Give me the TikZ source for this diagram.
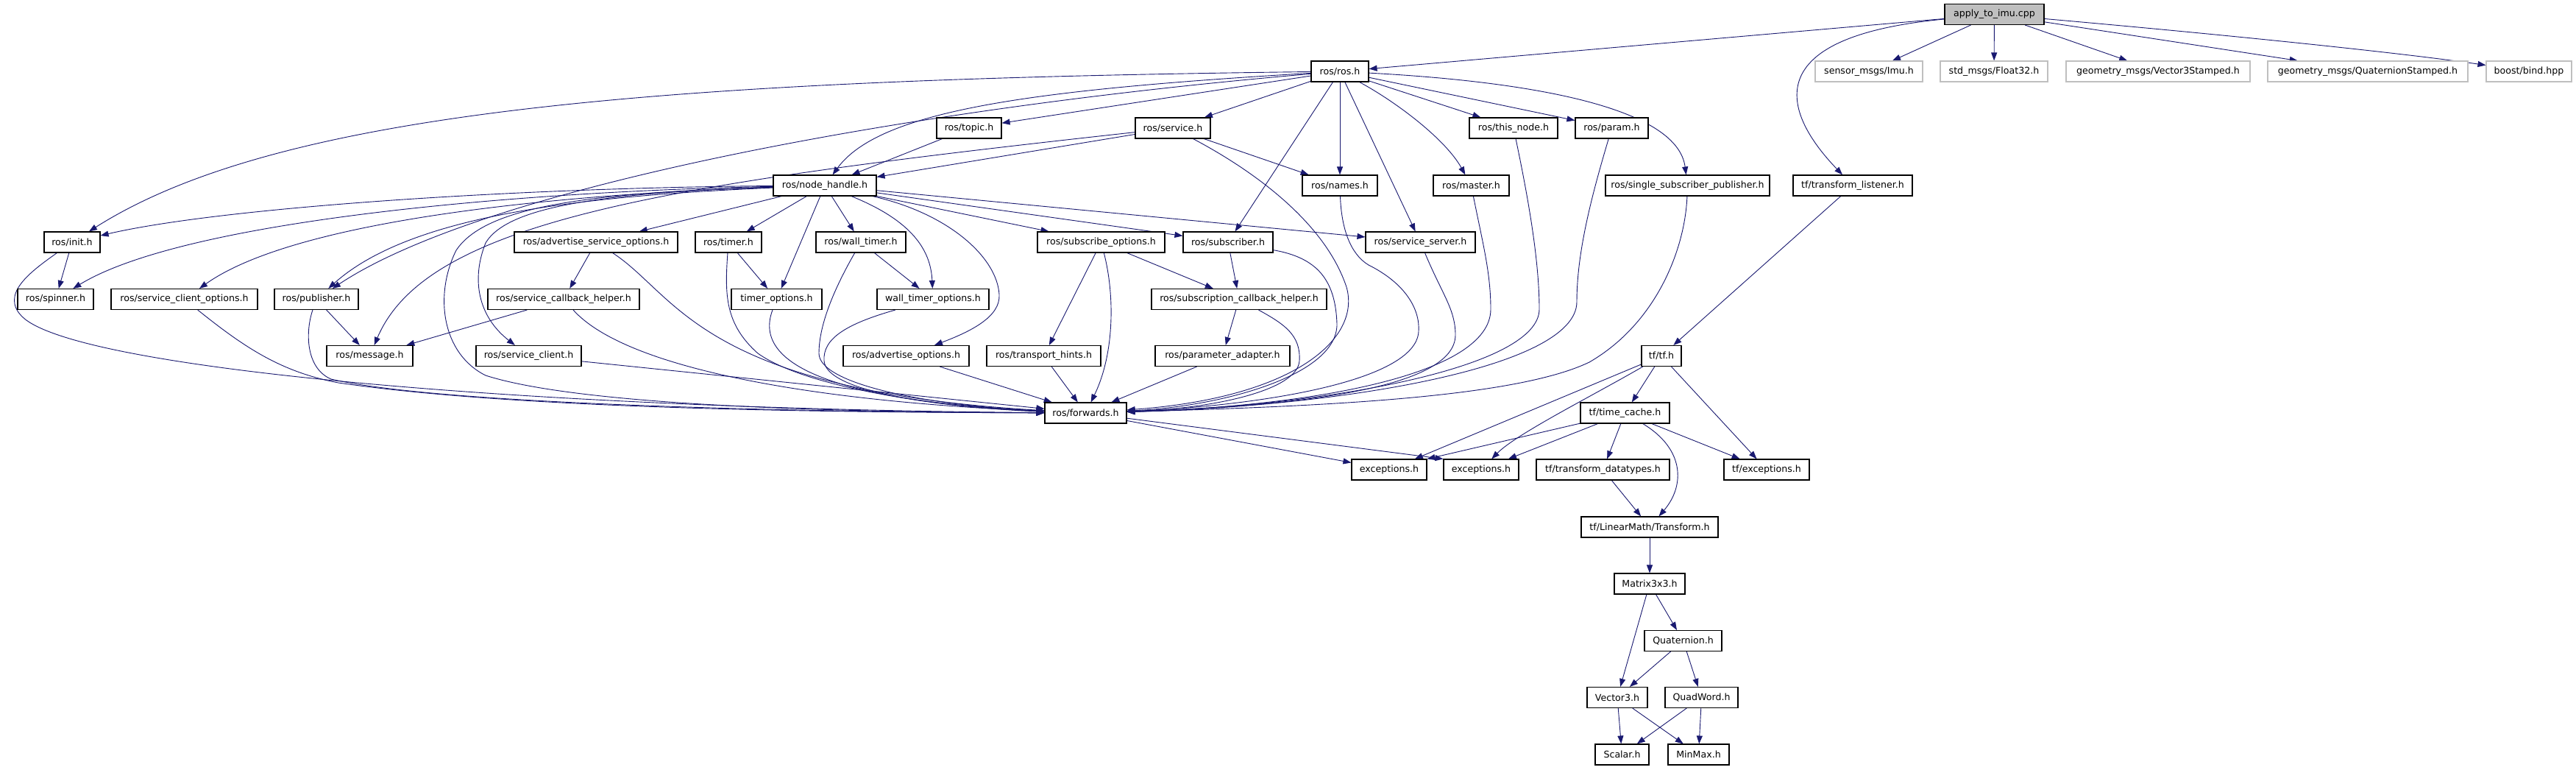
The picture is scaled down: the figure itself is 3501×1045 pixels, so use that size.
\documentclass[tikz,border=0pt]{standalone}
\usepackage{fontspec}
\setmainfont{DejaVu Sans}
\usetikzlibrary{arrows.meta,backgrounds}
\definecolor{edgecol}{HTML}{191970}
\definecolor{extgray}{HTML}{BFBFBF}
\tikzset{
  box/.style={draw=black, line width=1.1pt, fill=white, inner sep=0pt, minimum height=28pt,
              font=\fontsize{12.6pt}{15pt}\selectfont, text=black},
  extbox/.style={draw=extgray},
  rootbox/.style={fill=extgray},
  dep/.style={draw=edgecol, line width=0.9pt, -{Triangle[length=11pt,width=8pt]}}
}
\newcommand{\mkbox}[6][]{\node[box,#1,minimum width={#4-#3}] (#2) at ({(#3+#4)/2},#5) {#6};}
\begin{document}
\begin{tikzpicture}[x=1pt,y=-1pt]
% row 0
\mkbox[rootbox]{apply}{2643}{2778}{19.5}{apply\_to\_imu.cpp}
% row 1
\mkbox{rosros}{1782}{1860}{97}{ros/ros.h}
\mkbox[extbox]{imu}{2467}{2613}{97}{sensor\_msgs/Imu.h}
\mkbox[extbox]{f32}{2637}{2783}{97}{std\_msgs/Float32.h}
\mkbox[extbox]{v3s}{2808}{3058}{97}{geometry\_msgs/Vector3Stamped.h}
\mkbox[extbox]{qs}{3082}{3354}{97}{geometry\_msgs/QuaternionStamped.h}
\mkbox[extbox]{bind}{3379}{3495}{97}{boost/bind.hpp}
% row 2
\mkbox{topic}{1273}{1361}{174}{ros/topic.h}
\mkbox{service}{1543}{1645}{174}{ros/service.h}
\mkbox{thisnode}{1997}{2117}{174}{ros/this\_node.h}
\mkbox{param}{2141}{2240}{174}{ros/param.h}
% row 3
\mkbox{nh}{1051}{1191}{252}{ros/node\_handle.h}
\mkbox{names}{1770}{1872}{252}{ros/names.h}
\mkbox{master}{1948}{2051}{252}{ros/master.h}
\mkbox{ssp}{2182}{2405}{252}{ros/single\_subscriber\_publisher.h}
\mkbox{tlist}{2437}{2599}{252}{tf/transform\_listener.h}
% row 4
\mkbox{init}{60}{136}{329}{ros/init.h}
\mkbox{aso}{699}{921}{329}{ros/advertise\_service\_options.h}
\mkbox{timer}{945}{1035}{329}{ros/timer.h}
\mkbox{wtimer}{1109}{1231}{329}{ros/wall\_timer.h}
\mkbox{subopt}{1410}{1583}{329}{ros/subscribe\_options.h}
\mkbox{subscriber}{1608}{1730}{329}{ros/subscriber.h}
\mkbox{ssrv}{1856}{2005}{329}{ros/service\_server.h}
% row 5
\mkbox{spinner}{24}{127}{406.5}{ros/spinner.h}
\mkbox{sco}{151}{350}{406.5}{ros/service\_client\_options.h}
\mkbox{pub}{373}{487}{406.5}{ros/publisher.h}
\mkbox{sch}{663}{869}{406.5}{ros/service\_callback\_helper.h}
\mkbox{topt}{994}{1117}{406.5}{timer\_options.h}
\mkbox{wtopt}{1192}{1344}{406.5}{wall\_timer\_options.h}
\mkbox{subcb}{1565}{1803}{406.5}{ros/subscription\_callback\_helper.h}
% row 6
\mkbox{msg}{444}{561}{483.5}{ros/message.h}
\mkbox{sclient}{647}{790}{483.5}{ros/service\_client.h}
\mkbox{advopt}{1146}{1317}{483.5}{ros/advertise\_options.h}
\mkbox{thints}{1341}{1496}{483.5}{ros/transport\_hints.h}
\mkbox{padapt}{1570}{1753}{483.5}{ros/parameter\_adapter.h}
\mkbox{tf}{2231}{2285}{483.5}{tf/tf.h}
% row 7
\mkbox{fwd}{1420}{1531}{561}{ros/forwards.h}
\mkbox{tcache}{2148}{2269}{561}{tf/time\_cache.h}
% row 8
\mkbox{exca}{1837}{1939}{638}{exceptions.h}
\mkbox{excb}{1962}{2064}{638}{exceptions.h}
\mkbox{tdt}{2088}{2269}{638}{tf/transform\_datatypes.h}
\mkbox{tfexc}{2343}{2459}{638}{tf/exceptions.h}
% rows 9-13
\mkbox{ltf}{2149}{2335}{716}{tf/LinearMath/Transform.h}
\mkbox{mat}{2194}{2290}{793}{Matrix3x3.h}
\mkbox{quat}{2235}{2340}{870.5}{Quaternion.h}
\mkbox{vec}{2157}{2239}{947.5}{Vector3.h}
\mkbox{qw}{2263}{2362}{947.5}{QuadWord.h}
\mkbox{scal}{2168}{2241}{1025}{Scalar.h}
\mkbox{mm}{2267}{2350}{1025}{MinMax.h}

\begin{pgfonlayer}{background}
\path[use as bounding box, fill=white] (0,0) rectangle (3501,1045);
% ---- edges from apply_to_imu.cpp
\draw[dep] (apply) -- (rosros);
\draw[dep] (apply) -- (imu);
\draw[dep] (apply) -- (f32);
\draw[dep] (apply) -- (v3s);
\draw[dep] (apply) -- (qs);
\draw[dep] (apply) .. controls (3000,45) and (3250,70) .. (bind);
\draw[dep] (apply) .. controls (2390,50) and (2420,150) .. (tlist);

% ---- edges from ros/ros.h
\draw[dep] (rosros) .. controls (900,108) and (380,150) .. (init);
\draw[dep] (rosros) .. controls (1200,150) and (650,260) .. (pub);
\draw[dep] (rosros) .. controls (1400,122) and (1195,150) .. (nh);
\draw[dep] (rosros) -- (topic);
\draw[dep] (rosros) -- (service);
\draw[dep] (rosros) -- (names);
\draw[dep] (rosros) -- (subscriber);
\draw[dep] (rosros) -- (ssrv);
\draw[dep] (rosros) .. controls (1900,140) and (1965,190) .. (master);
\draw[dep] (rosros) -- (thisnode);
\draw[dep] (rosros) -- (param);
\draw[dep] (rosros) .. controls (2100,112) and (2280,150) .. (ssp);

% ---- topic, service
\draw[dep] (topic) -- (nh);
\draw[dep] (service) -- (nh);
\draw[dep] (service) .. controls (900,250) and (580,300) .. (msg);
\draw[dep] (service) -- (names);
\draw[dep] (service) .. controls (1700,230) and (1800,300) .. (1830,390)
                     .. controls (1850,460) and (1760,540) .. (fwd);

% ---- node_handle
\draw[dep] (nh) .. controls (700,255) and (300,282) .. (init);
\draw[dep] (nh) .. controls (700,260) and (250,300) .. (spinner);
\draw[dep] (nh) .. controls (750,264) and (400,300) .. (sco);
\draw[dep] (nh) .. controls (800,266) and (560,290) .. (pub);
\draw[dep] (nh) .. controls (820,262) and (690,280) .. (660,330)
                .. controls (640,380) and (650,430) .. (sclient);
\draw[dep] (nh) .. controls (800,262) and (660,280) .. (620,340)
                .. controls (590,400) and (600,480) .. (660,510)
                .. controls (800,555) and (1200,560) .. (fwd);
\draw[dep] (nh) -- (aso);
\draw[dep] (nh) -- (timer);
\draw[dep] (nh) -- (topt);
\draw[dep] (nh) -- (wtimer);
\draw[dep] (nh) .. controls (1240,300) and (1265,340) .. (wtopt);
\draw[dep] (nh) .. controls (1290,290) and (1355,350) .. (1358,400)
                .. controls (1360,430) and (1320,450) .. (advopt);
\draw[dep] (nh) -- (subopt);
\draw[dep] (nh) -- (subscriber);
\draw[dep] (nh) -- (ssrv);

% ---- second level, left part
\draw[dep] (init) -- (spinner);
\draw[dep] (init) .. controls (40,370) and (0,400) .. (30,430)
                  .. controls (100,500) and (700,555) .. (fwd);
\draw[dep] (sco) .. controls (330,470) and (380,505) .. (460,520)
                 .. controls (700,555) and (1100,560) .. (fwd);
\draw[dep] (pub) -- (msg);
\draw[dep] (pub) .. controls (415,450) and (415,500) .. (450,515)
                 .. controls (600,550) and (1100,560) .. (fwd);
\draw[dep] (aso) -- (sch);
\draw[dep] (aso) .. controls (920,400) and (950,530) .. (fwd);
\draw[dep] (sch) -- (msg);
\draw[dep] (sch) .. controls (850,500) and (1100,545) .. (fwd);
\draw[dep] (sclient) -- (fwd);
\draw[dep] (timer) -- (topt);
\draw[dep] (timer) .. controls (985,400) and (985,440) .. (1030,480)
                   .. controls (1100,530) and (1300,555) .. (fwd);
\draw[dep] (topt) .. controls (1020,500) and (1150,545) .. (fwd);
\draw[dep] (wtimer) -- (wtopt);
\draw[dep] (wtimer) .. controls (1135,390) and (1113,440) .. (1113,480)
                    .. controls (1113,520) and (1250,550) .. (fwd);
\draw[dep] (wtopt) .. controls (1150,440) and (1118,460) .. (1120,490)
                   .. controls (1122,530) and (1260,552) .. (fwd);
\draw[dep] (advopt) -- (fwd);

% ---- second level, right part
\draw[dep] (subopt) -- (thints);
\draw[dep] (subopt) .. controls (1515,400) and (1515,480) .. (fwd);
\draw[dep] (subopt) -- (subcb);
\draw[dep] (subscriber) -- (subcb);
\draw[dep] (subscriber) .. controls (1790,350) and (1815,380) .. (1817,440)
                        .. controls (1818,510) and (1660,552) .. (fwd);
\draw[dep] (subcb) -- (padapt);
\draw[dep] (subcb) .. controls (1745,440) and (1768,455) .. (1766,490)
                   .. controls (1764,530) and (1650,555) .. (fwd);
\draw[dep] (thints) -- (fwd);
\draw[dep] (padapt) -- (fwd);
\draw[dep] (names) .. controls (1823,310) and (1835,345) .. (1860,360)
                   .. controls (1910,385) and (1930,420) .. (1928,450)
                   .. controls (1925,520) and (1700,552) .. (fwd);
\draw[dep] (ssrv) .. controls (1960,400) and (1978,420) .. (1978,455)
                  .. controls (1978,530) and (1750,552) .. (fwd);
\draw[dep] (master) .. controls (2015,330) and (2026,370) .. (2026,420)
                    .. controls (2026,510) and (1780,552) .. (fwd);
\draw[dep] (thisnode) .. controls (2075,260) and (2092,350) .. (2092,420)
                      .. controls (2092,500) and (1800,552) .. (fwd);
\draw[dep] (param) .. controls (2165,260) and (2143,340) .. (2143,410)
                   .. controls (2143,500) and (1820,552) .. (fwd);
\draw[dep] (ssp) .. controls (2290,340) and (2250,440) .. (2160,492)
                 .. controls (2060,540) and (1800,552) .. (fwd);

% ---- forwards and tf
\draw[dep] (fwd) -- (exca);
\draw[dep] (fwd) -- (excb.north west);
\draw[dep] (tlist) -- (tf);
\draw[dep] (tf) -- (exca);
\draw[dep] (tf) .. controls (2160,540) and (2060,590) .. (excb);
\draw[dep] (tf) -- (tcache);
\draw[dep] (tf) -- (tfexc);
\draw[dep] (tcache) -- (exca.north east);
\draw[dep] (tcache) -- (excb);
\draw[dep] (tcache) -- (tdt);
\draw[dep] (tcache) -- (tfexc);
\draw[dep] (tcache) .. controls (2290,610) and (2290,660) .. (ltf);
\draw[dep] (tdt) -- (ltf);
\draw[dep] (ltf) -- (mat);
\draw[dep] (mat) -- (vec);
\draw[dep] (mat) -- (quat);
\draw[dep] (quat) -- (vec);
\draw[dep] (quat) -- (qw);
\draw[dep] (vec) -- (scal);
\draw[dep] (vec) -- (mm);
\draw[dep] (qw) -- (scal);
\draw[dep] (qw) -- (mm);
\end{pgfonlayer}
\end{tikzpicture}
\end{document}
